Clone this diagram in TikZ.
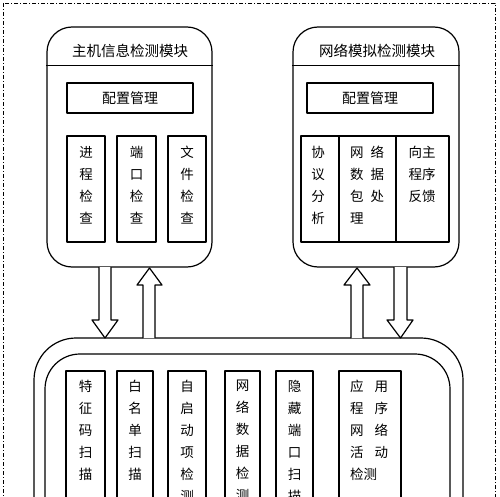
\documentclass[tikz,border=0pt]{standalone}
\usepackage{fontspec}
\newfontfamily\cjk{Noto Sans CJK SC}
\begin{document}
\begin{tikzpicture}[x=1pt,y=-1pt,line join=round,
  module/.style={draw,line width=1.2pt,rounded corners=25pt,inner sep=0pt},
  box/.style={draw,line width=1.2pt,inner sep=0pt},
  title/.style={font=\cjk\fontsize{14.5}{16}\selectfont,inner sep=0pt},
  vtext/.style={font=\cjk\fontsize{13.5}{22}\selectfont,align=center,anchor=north,inner sep=0pt},
  bigarrow/.style={draw,line width=1.2pt,fill=white}]
\useasboundingbox (0,0) rectangle (500,497);
\draw[line width=0.8pt,dash pattern=on 4pt off 2pt on 1pt off 2pt] (3,3) rectangle (495,540);
% 主机信息检测模块
\node[module,minimum width=165pt,minimum height=240pt] (host) at (129.5,147) {};
\draw[line width=1.2pt] ([yshift=-39pt]host.north west) -- ([yshift=-39pt]host.north east);
\node[title] (hosttitle) at (130,51) {主机信息检测模块};
\node[box,minimum width=126pt,minimum height=30pt,font=\cjk\fontsize{14}{16}\selectfont] (hostcfg) at (130,98) {配置管理};
\node[box,minimum width=38pt,minimum height=106pt] (proc) at (86,189) {};
\node[box,minimum width=39pt,minimum height=106pt] (port) at (136.5,189) {};
\node[box,minimum width=38pt,minimum height=106pt] (file) at (187,189) {};
\node[vtext] at (86,146) {进\\程\\检\\查};
\node[vtext] at (136.5,146) {端\\口\\检\\查};
\node[vtext] at (187,146) {文\\件\\检\\查};
% 网络模拟检测模块
\node[module,minimum width=166pt,minimum height=240pt] (net) at (376,147) {};
\draw[line width=1.2pt] ([yshift=-39pt]net.north west) -- ([yshift=-39pt]net.north east);
\node[title] (nettitle) at (377,51) {网络模拟检测模块};
\node[box,minimum width=126pt,minimum height=30pt,font=\cjk\fontsize{14}{16}\selectfont] (netcfg) at (370,98) {配置管理};
\node[box,minimum width=38pt,minimum height=106pt] (proto) at (320,189) {};
\node[box,minimum width=57pt,minimum height=106pt] (pkt) at (367.5,189) {};
\node[box,minimum width=53pt,minimum height=106pt] (feed) at (422.5,189) {};
\node[vtext] at (318,146) {协\\议\\分\\析};
\node[vtext,align=left,anchor=north west] at (350,146) {网\hspace{7pt}络\\数\hspace{7pt}据\\包\hspace{7pt}处\\理};
\node[vtext] at (422,146) {向主\\程序\\反馈};
% 底部模块
\node[module,rounded corners=42pt,minimum width=429pt,minimum height=222pt] (bot) at (248.5,449) {};
\node[module,rounded corners=35pt,minimum width=405pt,minimum height=200pt] (botin) at (247.5,454) {};
\foreach \cx/\w/\txt in {85.5/39/特\\征\\码\\扫\\描,
                         135/36/白\\名\\单\\扫\\描,
                         187/38/自\\启\\动\\项\\检\\测,
                         242.5/35/网\\络\\数\\据\\检\\测,
                         294.5/37/隐\\藏\\端\\口\\扫\\描}{
  \node[box,minimum width=\w pt,minimum height=159pt] at (\cx,450.5) {};
  \node[vtext] at (\cx,380) {\txt};
}
\node[box,minimum width=62pt,minimum height=159pt] (app) at (370,450.5) {};
\node[vtext,align=left,anchor=north west] at (350,380) {应\hspace{11pt}用\\程\hspace{11pt}序\\网\hspace{11pt}络\\活\hspace{11pt}动\\检测};
% 双向箭头
\draw[bigarrow] (99,267) -- (99,320) -- (92,320) -- (105,338) -- (118,320) -- (111,320) -- (111,267);
\draw[bigarrow] (143,338) -- (143,285) -- (137,285) -- (149.5,268) -- (162,285) -- (155,285) -- (155,338);
\draw[bigarrow] (351,338) -- (351,285) -- (344,285) -- (357,268) -- (370,285) -- (363,285) -- (363,338);
\draw[bigarrow] (394,267) -- (394,320) -- (387,320) -- (400.5,338) -- (413,320) -- (407,320) -- (407,267);
\end{tikzpicture}
\end{document}
